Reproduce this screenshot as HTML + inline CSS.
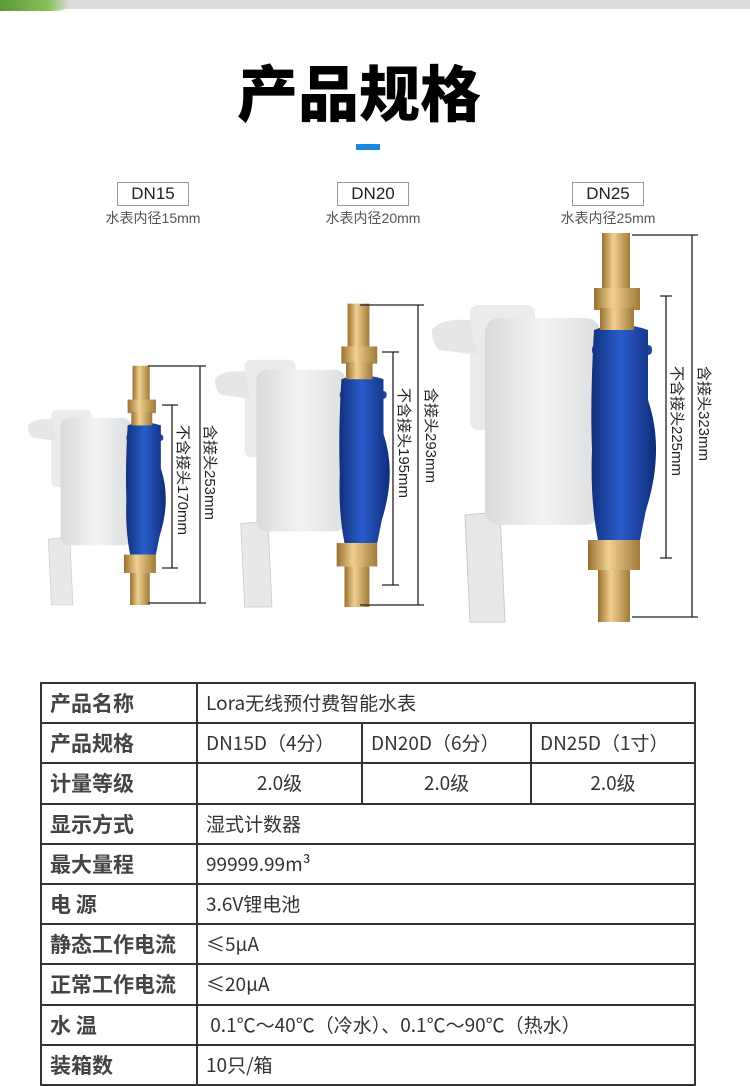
<!DOCTYPE html>
<html><head><meta charset="utf-8"><style>
body{margin:0;width:750px;height:1068px;overflow:hidden;background:#fff;font-family:"Liberation Sans","Noto Sans CJK SC",sans-serif;position:relative}
.top{position:absolute;left:0;top:0;width:750px;height:9px;background:#dcdcdc}
.green{position:absolute;left:0;top:0;width:70px;height:11px;background:linear-gradient(90deg,#5a9a3a,#8bbf5a 70%,rgba(255,255,255,0));border-radius:0 0 30px 0}
h1{position:absolute;left:-16px;width:750px;top:52px;margin:0;text-align:center;font-size:61px;font-weight:900;font-family:"Noto Sans CJK SC",sans-serif;color:#000;letter-spacing:0px;line-height:76px}
.dash{position:absolute;left:356px;top:144px;width:24px;height:6px;background:#1a88e0}
.lab{position:absolute;text-align:center;color:#333}
.lab b{display:inline-block;border:1px solid #999;font-weight:normal;font-size:17px;padding:0 13px;line-height:22px;color:#222}
.lab div{font-size:14px;color:#555;margin-top:2px}
table{position:absolute;left:40px;top:682px;border-collapse:collapse;width:656px;font-family:"Noto Sans CJK SC",sans-serif;table-layout:fixed}
tr{height:40.2px}
td{border:2px solid #333;height:36px;padding:0 0 0 8px;font-size:19px;line-height:22px;color:#333;white-space:nowrap;overflow:hidden}
td.h{font-weight:bold;font-size:21px;color:#444}
td.c{text-align:center;padding:0}
</style></head><body>
<div class="top"></div><div class="green"></div>
<h1>产品规格</h1>
<div class="dash"></div>
<div class="lab" style="left:88px;width:130px;top:182px"><b>DN15</b><div>水表内径15mm</div></div>
<div class="lab" style="left:308px;width:130px;top:182px"><b>DN20</b><div>水表内径20mm</div></div>
<div class="lab" style="left:543px;width:130px;top:182px"><b>DN25</b><div>水表内径25mm</div></div>
<svg width="750" height="660" style="position:absolute;left:0;top:0">
<defs>
<linearGradient id="br" x1="0" x2="1"><stop offset="0" stop-color="#9a7030"/><stop offset=".4" stop-color="#f0d090"/><stop offset="1" stop-color="#a07a38"/></linearGradient>
<linearGradient id="bl" x1="0" x2="1"><stop offset="0" stop-color="#10307a"/><stop offset=".45" stop-color="#2a5ccc"/><stop offset="1" stop-color="#0e2d78"/></linearGradient>
<linearGradient id="wh" x1="0" x2="1"><stop offset="0" stop-color="#d8dadc"/><stop offset=".5" stop-color="#f2f3f4"/><stop offset="1" stop-color="#dcdedf"/></linearGradient>
<g id="m">
<path d="M465 515 L500 512 L505 622 L470 622 Z" fill="#e6e8ea" stroke="#c8cacc"/>
<rect x="470" y="305" width="65" height="125" rx="8" fill="#e9ebec"/>
<path d="M432 330 Q440 318 470 320 L478 355 L440 350 Q432 345 432 330Z" fill="#e4e6e8"/>
<rect x="485" y="318" width="115" height="207" rx="14" fill="url(#wh)"/>
<rect x="592" y="345" width="60" height="10" rx="4" fill="#1f45a6"/>
<path d="M594 330 Q620 320 648 330 L648 400 Q665 450 646 510 L640 540 L598 540 Q590 500 592 450 Q590 400 594 330Z" fill="url(#bl)"/>
<rect x="602" y="233" width="28" height="58" fill="url(#br)"/>
<rect x="594" y="288" width="46" height="22" fill="url(#br)"/>
<rect x="600" y="308" width="34" height="22" fill="url(#br)"/>
<rect x="588" y="540" width="52" height="30" fill="url(#br)"/>
<rect x="598" y="570" width="32" height="52" fill="url(#br)"/>
</g>
</defs>
<use href="#m"/>
<use href="#m" transform="translate(215,607) scale(.78) translate(-432,-622)"/>
<use href="#m" transform="translate(28,605) scale(.615) translate(-432,-622)"/>
<g stroke="#222" stroke-width="1.3" fill="none">
<path d="M660 296H672M666 296V558M660 558H672"/>
<path d="M632 235H698M692 235V617M632 617H698"/>
<path d="M382 352H399M393 352V585M382 585H399"/>
<path d="M360 305H424M418 305V605M360 605H424"/>
<path d="M162 405H178M172 405V568M162 568H178"/>
<path d="M148 366H206M200 366V603M148 603H206"/>
</g>
<g font-size="15" fill="#222" font-family="Liberation Sans,Noto Sans CJK SC,sans-serif">
<text transform="translate(672,366) rotate(90)">不含接头225mm</text>
<text transform="translate(699,366) rotate(90)">含接头323mm</text>
<text transform="translate(399,388) rotate(90)">不含接头195mm</text>
<text transform="translate(426,388) rotate(90)">含接头293mm</text>
<text transform="translate(178,425) rotate(90)">不含接头170mm</text>
<text transform="translate(205,425) rotate(90)">含接头253mm</text>
</g>
</svg>
<table>
<colgroup><col style="width:156px"><col style="width:165px"><col style="width:169px"><col></colgroup>
<tr><td class="h">产品名称</td><td colspan="3">Lora无线预付费智能水表</td></tr>
<tr><td class="h">产品规格</td><td>DN15D（4分）</td><td>DN20D（6分）</td><td>DN25D（1寸）</td></tr>
<tr><td class="h">计量等级</td><td class="c">2.0级</td><td class="c">2.0级</td><td class="c">2.0级</td></tr>
<tr><td class="h">显示方式</td><td colspan="3">湿式计数器</td></tr>
<tr><td class="h">最大量程</td><td colspan="3">99999.99m³</td></tr>
<tr><td class="h">电 源</td><td colspan="3">3.6V锂电池</td></tr>
<tr><td class="h">静态工作电流</td><td colspan="3">≤5μA</td></tr>
<tr><td class="h">正常工作电流</td><td colspan="3">≤20μA</td></tr>
<tr><td class="h">水 温</td><td colspan="3">&nbsp;0.1℃～40℃（冷水）、0.1℃～90℃（热水）</td></tr>
<tr><td class="h">装箱数</td><td colspan="3">10只/箱</td></tr>
</table>
</body></html>
